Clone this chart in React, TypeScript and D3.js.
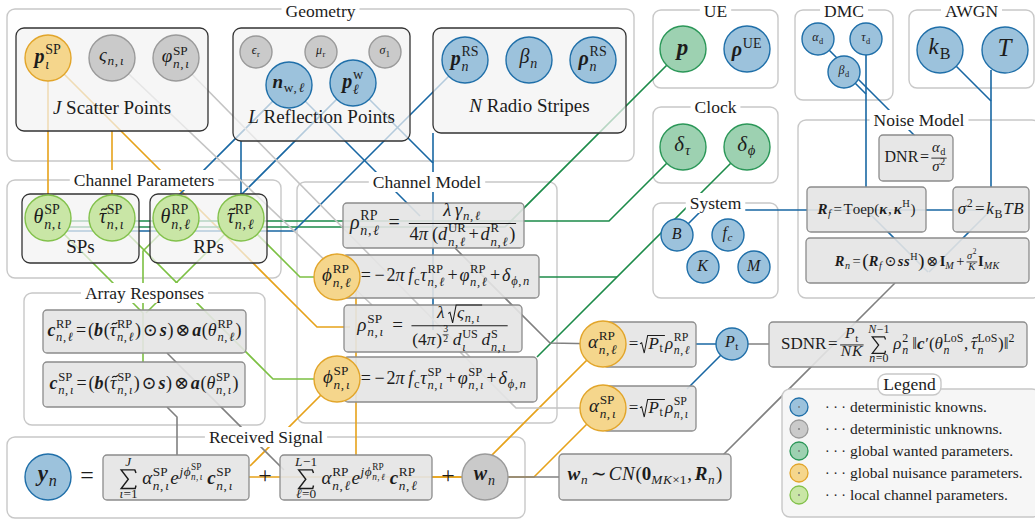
import React from 'react'
import * as d3 from 'd3'

const W = 1035
const H = 521
const FONT = '"Liberation Serif", "Times New Roman", "DejaVu Serif", serif'
const INK = '#1c1c1c'

type Pt = [number, number]

// legend categories
const kinds = ['known', 'unknown', 'wanted', 'nuisance', 'local']
const kindLabels = [
  'deterministic knowns.',
  'deterministic unknowns.',
  'global wanted parameters.',
  'global nuisance parameters.',
  'local channel parameters.',
]
const kindFill = ['#9cc2dc', '#cacaca', '#9dd1b1', '#f5d68c', '#c9e6a6']
const kindStroke = ['#1f6fa9', '#9a9a9a', '#2b9758', '#e2a52a', '#82c14b']

// light grey groups
const groupNames = [
  'Geometry', 'UE', 'Clock', 'DMC', 'AWGN', 'Noise Model', 'System',
  'Channel Parameters', 'Channel Model', 'Array Responses', 'Received Signal',
]
const groupFrames = [
  [7, 9, 634, 161], [653, 10, 778, 88], [653, 107, 778, 183], [795, 10, 893, 100],
  [909, 10, 1034, 88], [798, 120, 1040, 298], [653, 203, 778, 298], [7, 180, 281, 278],
  [297, 182, 557, 423], [24, 293, 265, 425], [7, 437, 525, 518],
]

// dark plates
const plateNames = [['J', ' Scatter Points'], ['L', ' Reflection Points'], ['N', ' Radio Stripes'], ['', 'SPs'], ['', 'RPs']]
const plateFrames = [[16, 28, 208, 131], [233, 28, 410, 141], [433, 28, 626, 133], [22, 194, 139, 263], [150, 194, 267, 263]]
const plateLabelY = [114, 123, 112, 253, 253]

// random variables / parameters
const nodes = [
  { id: 'pSP', kind: 'nuisance', tex: '\\bf{p}^{\\rm{SP}}_{ι}' },
  { id: 'zeta', kind: 'unknown', tex: 'ς_{n,ι}' },
  { id: 'phiS', kind: 'unknown', tex: 'φ^{\\rm{SP}}_{n,ι}' },
  { id: 'epsr', kind: 'unknown', tex: 'ϵ_{\\rm{r}}' },
  { id: 'mur', kind: 'unknown', tex: 'μ_{\\rm{r}}' },
  { id: 'sig1', kind: 'unknown', tex: 'σ_{1}' },
  { id: 'nw', kind: 'known', tex: '\\bf{n}_{\\rm{w},ℓ}' },
  { id: 'pw', kind: 'known', tex: '\\bf{p}^{\\rm{w}}_{ℓ}' },
  { id: 'pRS', kind: 'known', tex: '\\bf{p}^{\\rm{RS}}_{n}' },
  { id: 'betan', kind: 'known', tex: 'β_{n}' },
  { id: 'rhoRS', kind: 'known', tex: '\\bf{ρ}^{\\rm{RS}}_{n}' },
  { id: 'p', kind: 'wanted', tex: '\\bf{p}' },
  { id: 'rhoUE', kind: 'known', tex: '\\bf{ρ}^{\\rm{UE}}' },
  { id: 'dtau', kind: 'wanted', tex: 'δ_{τ}' },
  { id: 'dphi', kind: 'wanted', tex: 'δ_{ϕ}' },
  { id: 'alphad', kind: 'known', tex: 'α_{\\rm{d}}' },
  { id: 'taud', kind: 'known', tex: 'τ_{\\rm{d}}' },
  { id: 'betad', kind: 'known', tex: 'β_{\\rm{d}}' },
  { id: 'kB', kind: 'known', tex: 'k_{\\rm{B}}' },
  { id: 'T', kind: 'known', tex: 'T' },
  { id: 'B', kind: 'known', tex: 'B' },
  { id: 'fc', kind: 'known', tex: 'f_{c}' },
  { id: 'K', kind: 'known', tex: 'K' },
  { id: 'M', kind: 'known', tex: 'M' },
  { id: 'thSP', kind: 'local', tex: 'θ^{\\rm{SP}}_{n,ι}' },
  { id: 'tauSP', kind: 'local', tex: '\\tilde{τ}^{\\rm{SP}}_{n,ι}' },
  { id: 'thRP', kind: 'local', tex: 'θ^{\\rm{RP}}_{n,ℓ}' },
  { id: 'tauRP', kind: 'local', tex: '\\tilde{τ}^{\\rm{RP}}_{n,ℓ}' },
  { id: 'phiRP', kind: 'nuisance', tex: 'ϕ^{\\rm{RP}}_{n,ℓ}' },
  { id: 'phiSP', kind: 'nuisance', tex: 'ϕ^{\\rm{SP}}_{n,ι}' },
  { id: 'aRP', kind: 'nuisance', tex: 'α^{\\rm{RP}}_{n,ℓ}' },
  { id: 'aSP', kind: 'nuisance', tex: 'α^{\\rm{SP}}_{n,ι}' },
  { id: 'Pt', kind: 'known', tex: 'P_{\\rm{t}}' },
  { id: 'yn', kind: 'known', tex: '\\bf{y}_{n}' },
  { id: 'wn', kind: 'unknown', tex: '\\bf{w}_{n}' },
]

// node layout: x, y, radius, label size
const nodeAt: Record<string, number[]> = {
  pSP: [48, 58, 23, 20], zeta: [112, 58, 23, 19], phiS: [176, 58, 23, 19],
  epsr: [256, 52, 16, 12], mur: [321, 52, 16, 12], sig1: [385, 52, 16, 12],
  nw: [289, 85, 23, 19], pw: [353, 83, 23, 20],
  pRS: [465, 60, 23, 20], betan: [529, 60, 23, 20], rhoRS: [593, 60, 23, 20],
  p: [683, 49, 23, 23], rhoUE: [747, 49, 23, 20], dtau: [683, 147, 23, 21], dphi: [747, 147, 23, 21],
  alphad: [818, 39, 16, 12], taud: [866, 39, 16, 12], betad: [844, 72, 16, 12],
  kB: [940, 50, 23, 23], T: [1005, 50, 23, 25],
  B: [677, 235, 16, 16], fc: [728, 235, 16, 16], K: [703, 267, 16, 16], M: [754, 267, 16, 16],
  thSP: [48, 218, 23, 20], tauSP: [112, 218, 23, 20], thRP: [176, 218, 23, 20], tauRP: [241, 218, 23, 20],
  phiRP: [337, 277, 23, 19], phiSP: [337, 379, 23, 19], aRP: [603, 344, 23, 19], aSP: [603, 408, 23, 19],
  Pt: [732, 344, 16, 16], yn: [48, 477, 23, 23], wn: [485, 477, 23, 20],
}

// equation boxes
const eqTex: Record<string, string> = {
  rhoRP: 'ρ^{\\rm{RP}}_{n,ℓ}\\q=\\q\\frac{λ\\,γ_{n,ℓ}}{4π\\,(d^{\\rm{UR}}_{n,ℓ}+d^{\\rm{R}}_{n,ℓ})}',
  phiRP: '=−2π\\,f_{\\rm{c}}τ^{\\rm{RP}}_{n,ℓ}+φ^{\\rm{RP}}_{n,ℓ}+δ_{ϕ,n}',
  rhoSP: 'ρ^{\\rm{SP}}_{n,ι}\\q=\\q\\frac{λ\\,\\sqrt{ς_{n,ι}}}{(4π)^{\\frac{3}{2}}\\,d^{\\rm{US}}_{ι}\\,d^{\\rm{S}}_{n,ι}}',
  phiSP: '=−2π\\,f_{\\rm{c}}τ^{\\rm{SP}}_{n,ι}+φ^{\\rm{SP}}_{n,ι}+δ_{ϕ,n}',
  cRP: '\\bf{c}^{\\rm{RP}}_{n,ℓ}=(\\bf{b}(\\tilde{τ}^{\\rm{RP}}_{n,ℓ})⊙\\bf{s})⊗\\bf{a}(θ^{\\rm{RP}}_{n,ℓ})',
  cSP: '\\bf{c}^{\\rm{SP}}_{n,ι}=(\\bf{b}(\\tilde{τ}^{\\rm{SP}}_{n,ι})⊙\\bf{s})⊗\\bf{a}(θ^{\\rm{SP}}_{n,ι})',
  sumSP: '\\sum{ι=1}{J}\\,α^{\\rm{SP}}_{n,ι}e^{jϕ^{\\rm{SP}}_{n,ι}}\\,\\bf{c}^{\\rm{SP}}_{n,ι}',
  sumRP: '\\sum{ℓ=0}{L−1}\\,α^{\\rm{RP}}_{n,ℓ}e^{jϕ^{\\rm{RP}}_{n,ℓ}}\\,\\bf{c}^{\\rm{RP}}_{n,ℓ}',
  aRP: '=\\sqrt{P_{\\rm{t}}}ρ^{\\rm{RP}}_{n,ℓ}',
  aSP: '=\\sqrt{P_{\\rm{t}}}ρ^{\\rm{SP}}_{n,ι}',
  sdnr: '\\rm{SDNR}=\\frac{P_{\\rm{t}}}{NK}\\,\\sum{n=0}{N−1}\\,ρ^{2}_{n}\\,‖\\bf{c}′(θ^{\\rm{LoS}}_{n},\\tilde{τ}^{\\rm{LoS}}_{n})‖^{2}',
  wn: '\\bf{w}_{n}∼CN(\\bb{0}_{MK×1},\\bf{R}_{n})',
  dnr: '\\rm{DNR}=\\frac{α_{\\rm{d}}}{σ^{2}}',
  rf: '\\bf{R}_{f}=\\rm{Toep}(\\bf{κ},\\bf{κ}^{\\rm{H}})',
  sig: 'σ^{2}=k_{\\rm{B}}TB',
  rn: '\\bf{R}_{n}=\\big{(}\\bf{R}_{f}⊙\\bf{ss}^{\\rm{H}}\\big{)}⊗\\bb{I}_{M}+\\tfrac{σ^{2}}{K}\\bb{I}_{MK}',
}
const eqFrames: Record<string, number[]> = {
  rhoRP: [343, 203, 524, 248], phiRP: [343, 255, 539, 298], rhoSP: [344, 305, 522, 352], phiSP: [344, 357, 537, 402],
  cRP: [43, 310, 246, 353], cSP: [43, 362, 245, 407], sumSP: [103, 455, 249, 500], sumRP: [280, 455, 432, 500],
  aRP: [603, 322, 696, 367], aSP: [603, 386, 696, 431], sdnr: [769, 322, 1027, 367], wn: [559, 454, 731, 500],
  dnr: [879, 135, 953, 181], rf: [807, 187, 926, 232], sig: [953, 187, 1029, 232], rn: [806, 238, 1029, 283],
}
// text start (0 = centred) and size
const eqText: Record<string, number[]> = {
  rhoRP: [0, 20], phiRP: [359, 18], rhoSP: [0, 19], phiSP: [359, 18], cRP: [0, 18], cSP: [0, 18],
  sumSP: [0, 19], sumRP: [0, 19], aRP: [627, 17], aSP: [627, 17], sdnr: [0, 17], wn: [0, 19],
  dnr: [0, 16], rf: [0, 15], sig: [0, 17], rn: [0, 14.5],
}

const edgeColor: Record<string, string> = {
  nuis: '#e6a21a', want: '#1c8b49', know: '#1867a3', unk: '#808080', unkL: '#c4c4c4', loc: '#7cc043',
}
const edges: { c: string; path: (string | Pt)[] }[] = [
  { c: 'nuis', path: ['pSP', [48, 218]] },
  { c: 'nuis', path: [[112, 131], 'tauSP'] },
  { c: 'nuis', path: ['pSP', [317, 327], [350, 327]] },
  { c: 'nuis', path: [[356, 285], [356, 456]] },
  { c: 'nuis', path: ['phiSP', [250, 466]] },
  { c: 'nuis', path: ['aSP', [534, 477], [249, 477]] },
  { c: 'nuis', path: ['aRP', [470, 477], [432, 477]] },
  { c: 'want', path: ['p', [505, 227], [48, 227]] },
  { c: 'want', path: ['dtau', [609, 221], [48, 221]] },
  { c: 'want', path: ['dphi', [537, 357]] },
  { c: 'want', path: [[617, 277], [539, 277]] },
  { c: 'know', path: ['nw', [176, 198], 'thRP'] },
  { c: 'know', path: ['pw', [241, 195], 'tauRP'] },
  { c: 'know', path: [[241, 141], [241, 196]] },
  { c: 'know', path: ['nw', [420, 216]] },
  { c: 'know', path: ['pw', [433, 163], [433, 330]] },
  { c: 'know', path: [[433, 133], [433, 163]] },
  { c: 'know', path: ['pRS', [294, 231], [48, 231]] },
  { c: 'know', path: ['alphad', [915, 136]] },
  { c: 'know', path: ['betad', [866, 94]] },
  { c: 'know', path: ['taud', [866, 187]] },
  { c: 'know', path: ['kB', [991, 101]] },
  { c: 'know', path: [[991, 70], [991, 187]] },
  { c: 'know', path: ['B', [702, 210], [991, 210]] },
  { c: 'know', path: [[866, 210], [928, 272]] },
  { c: 'know', path: [[991, 210], [929, 272]] },
  { c: 'know', path: [[696, 344], 'Pt'] },
  { c: 'know', path: ['Pt', [687, 389]] },
  { c: 'unkL', path: ['zeta', [372, 305]] },
  { c: 'unkL', path: ['phiS', [470, 357]] },
  { c: 'unkL', path: [[460, 352], [516, 408], 'aSP'] },
  { c: 'unk', path: [[167, 407], [177, 417], [177, 455]] },
  { c: 'unk', path: [[167, 353], [284, 470]] },
  { c: 'unk', path: [[455, 248], [550, 343], 'aRP'] },
  { c: 'unk', path: ['wn', [559, 477]] },
  { c: 'unk', path: [[723, 455], [895, 283]] },
  { c: 'unk', path: ['Pt', [769, 344]] },
  { c: 'loc', path: ['thSP', [143, 313], [143, 362]] },
  { c: 'loc', path: ['thRP', [143, 251], [143, 310]] },
  { c: 'loc', path: ['tauRP', [146, 313]] },
  { c: 'loc', path: ['tauSP', [273, 379], 'phiSP'] },
  { c: 'loc', path: ['tauRP', [300, 277], 'phiRP'] },
]

// ---------- tiny math typesetter ----------
type Ctx = { z: number; st: string; lvl: number }
type It = { k: string; x: number; y: number; s: string; z: number; st: string; sw?: number }
type Bx = { w: number; a: number; d: number; it: It[] }

let cv: CanvasRenderingContext2D | null = null
function measure(s: string, z: number, st: string) {
  if (!cv) cv = document.createElement('canvas').getContext('2d')
  if (!cv) return s.length * z * 0.5
  cv.font = `${st.includes('i') ? 'italic ' : ''}${st.includes('b') ? 'bold ' : ''}${z}px ${FONT}`
  return cv.measureText(s).width
}

const shift = (it: It[], dx: number, dy: number) => it.map((t) => ({ ...t, x: t.x + dx, y: t.y + dy }))
const gap = (w: number): Bx => ({ w, a: 0, d: 0, it: [] })
const LETTER = /[A-Za-zα-ωϵϕℓ]/
const BIN = '=+−⊗⊙∼×'

function charBox(c: string, ctx: Ctx): Bx {
  const L = LETTER.test(c)
  const st = ctx.st === 'rm' ? 'r' : ctx.st === 'bb' ? 'b' : ctx.st === 'bf' ? (L ? 'bi' : 'b') : L ? 'i' : 'r'
  const z = ctx.z
  const w = measure(c, z, st)
  let pre = 0
  let post = st.includes('i') ? 0.04 * z : 0
  if (ctx.lvl === 0 && BIN.includes(c)) {
    pre = 0.1 * z
    post = 0.1 * z
  }
  if (c === ',') post = 0.14 * z
  return { w: pre + w + post, a: 0.7 * z, d: 0.2 * z, it: [{ k: 't', x: pre, y: 0, s: c, z, st }] }
}

function hcat(bs: Bx[]): Bx {
  let x = 0, a = 0, d = 0
  const it: It[] = []
  for (const b of bs) {
    it.push(...shift(b.it, x, 0))
    x += b.w
    a = Math.max(a, b.a)
    d = Math.max(d, b.d)
  }
  return { w: x, a, d, it }
}

function scripts(base: Bx, sup: Bx | null, sub: Bx | null, z: number): Bx {
  const it = [...base.it]
  let a = base.a, d = base.d, sw = 0
  if (sup) {
    const y = -0.42 * z
    it.push(...shift(sup.it, base.w, y))
    sw = Math.max(sw, sup.w)
    a = Math.max(a, -y + sup.a)
  }
  if (sub) {
    const y = sup ? 0.3 * z : 0.22 * z
    it.push(...shift(sub.it, base.w, y))
    sw = Math.max(sw, sub.w)
    d = Math.max(d, y + sub.d)
  }
  return { w: base.w + sw + 0.04 * z, a, d, it }
}

function frac(n: Bx, dn: Bx, z: number): Bx {
  const ax = -0.26 * z, g = 0.12 * z
  const w = Math.max(n.w, dn.w) + 0.18 * z
  const ny = ax - g - n.d * 0.8, dy = ax + g + dn.a * 0.85
  return {
    w, a: -(ny - n.a), d: dy + dn.d,
    it: [
      ...shift(n.it, (w - n.w) / 2, ny),
      ...shift(dn.it, (w - dn.w) / 2, dy),
      { k: 'p', x: 0.05 * z, y: ax, s: `M0,0H${w - 0.1 * z}`, z, st: '', sw: Math.max(0.6, 0.055 * z) },
    ],
  }
}

function sumBox(lo: Bx, hi: Bx, z: number): Bx {
  const sw = 0.78 * z, top = -0.74 * z, bot = 0.24 * z, mid = (top + bot) / 2
  const w = Math.max(sw, lo.w, hi.w) + 0.12 * z
  const d = `M${sw},${top + 0.16 * z}L${sw - 0.06 * z},${top}L0,${top}L${sw * 0.48},${mid}L0,${bot}L${sw - 0.04 * z},${bot}L${sw},${bot - 0.16 * z}`
  const hy = top - 0.08 * z - hi.d, ly = bot + 0.08 * z + lo.a * 0.85
  return {
    w, a: -(hy - hi.a), d: ly + lo.d,
    it: [
      { k: 'p', x: (w - sw) / 2, y: 0, s: d, z, st: '', sw: 0.075 * z },
      ...shift(hi.it, (w - hi.w) / 2, hy),
      ...shift(lo.it, (w - lo.w) / 2, ly),
    ],
  }
}

function sqrtBox(b: Bx, z: number): Bx {
  const top = -(b.a + 0.06 * z), bot = b.d * 0.6 + 0.05 * z
  const x0 = 0.5 * z, w = x0 + b.w + 0.08 * z
  const d = `M0,${-0.28 * z}L${0.1 * z},${-0.34 * z}L${0.25 * z},${bot}L${0.45 * z},${top}L${w},${top}`
  return { w, a: -top + 0.06 * z, d: Math.max(b.d, bot), it: [{ k: 'p', x: 0, y: 0, s: d, z, st: '', sw: 0.06 * z }, ...shift(b.it, x0, 0)] }
}

function tildeBox(b: Bx, z: number): Bx {
  const y = -0.68 * z, t = 0.07 * z
  const x0 = 0.12 * z, x1 = b.w + 0.02 * z, L = x1 - x0
  const d = `M${x0},${y + t}C${x0 + L * 0.3},${y - 2 * t} ${x0 + L * 0.7},${y + 2 * t} ${x1},${y - t}`
  return { w: b.w, a: -y + 0.15 * z, d: b.d, it: [...b.it, { k: 'p', x: 0, y: 0, s: d, z, st: '', sw: 0.065 * z }] }
}

function parse(src: string, ctx: Ctx): Bx {
  let i = 0
  const out: Bx[] = []
  const arg = () => {
    while (src[i] === ' ') i++
    if (src[i] !== '{') return src[i++] ?? ''
    let dep = 0
    let j = i
    for (; j < src.length; j++) {
      if (src[j] === '{') dep++
      else if (src[j] === '}' && --dep === 0) break
    }
    const r = src.slice(i + 1, j)
    i = j + 1
    return r
  }
  const sc = (c: Ctx): Ctx => ({ ...c, z: Math.max(5.5, c.z * 0.7), lvl: c.lvl + 1 })
  while (i < src.length) {
    const c = src[i]
    if (c === '\\') {
      let j = i + 1
      while (j < src.length && /[a-z]/.test(src[j])) j++
      if (j === i + 1) j++
      const cmd = src.slice(i + 1, j)
      i = j
      if (cmd === 'frac' || cmd === 'tfrac') {
        const a = arg(), b = arg()
        const k = cmd === 'tfrac' ? 0.72 : ctx.lvl ? 0.8 : 0.92
        const cc = { ...ctx, z: ctx.z * k }
        out.push(frac(parse(a, cc), parse(b, cc), ctx.z))
      } else if (cmd === 'sum') {
        const lo = arg(), hi = arg()
        out.push(sumBox(parse(lo, sc(ctx)), parse(hi, sc(ctx)), ctx.z))
      } else if (cmd === 'sqrt') out.push(sqrtBox(parse(arg(), ctx), ctx.z))
      else if (cmd === 'tilde') out.push(tildeBox(parse(arg(), ctx), ctx.z))
      else if (cmd === 'big') {
        const b = parse(arg(), { ...ctx, z: ctx.z * 1.35 })
        out.push({ ...b, it: shift(b.it, 0, 0.08 * ctx.z) })
      } else if (cmd === ',') out.push(gap(0.17 * ctx.z))
      else if (cmd === 'q') out.push(gap(0.3 * ctx.z))
      else out.push(parse(arg(), { ...ctx, st: cmd }))
      continue
    }
    if (c === '{') {
      out.push(parse(arg(), ctx))
      continue
    }
    if (c === '^' || c === '_') {
      let sup: Bx | null = null
      let sub: Bx | null = null
      while (src[i] === '^' || src[i] === '_') {
        const t = src[i++]
        const b = parse(arg(), sc(ctx))
        if (t === '^') sup = b
        else sub = b
      }
      out.push(scripts(out.pop() ?? gap(0), sup, sub, ctx.z))
      continue
    }
    i++
    if (c === ' ') {
      out.push(gap(0.2 * ctx.z))
      continue
    }
    out.push(charBox(c, ctx))
  }
  return hcat(out)
}

function MathText({ tex, x, y, z, maxW, maxH, start }: { tex: string; x: number; y: number; z: number; maxW?: number; maxH?: number; start?: boolean }) {
  const b = parse(tex, { z, st: 'auto', lvl: 0 })
  let k = maxW && b.w > maxW ? maxW / b.w : 1
  if (maxH && (b.a + b.d) * k > maxH) k = maxH / (b.a + b.d)
  const x0 = start ? x : x - (b.w * k) / 2
  const y0 = y + ((b.a - b.d) * k) / 2
  return (
    <g transform={`translate(${x0.toFixed(2)},${y0.toFixed(2)}) scale(${k.toFixed(4)})`}>
      {b.it.map((t, i) =>
        t.k === 't' ? (
          <text key={i} x={t.x} y={t.y} fontSize={t.z} fontStyle={t.st.includes('i') ? 'italic' : 'normal'} fontWeight={t.st.includes('b') ? 'bold' : 'normal'}>
            {t.s}
          </text>
        ) : (
          <path key={i} transform={`translate(${t.x},${t.y})`} d={t.s} fill="none" stroke={INK} strokeWidth={t.sw} strokeLinejoin="miter" />
        )
      )}
    </g>
  )
}

export default function App() {
  const line = d3.line()
  const fill = d3.scaleOrdinal<string, string>().domain(kinds).range(kindFill)
  const stroke = d3.scaleOrdinal<string, string>().domain(kinds).range(kindStroke)
  const at = (p: string | Pt): Pt => (typeof p === 'string' ? [nodeAt[p][0], nodeAt[p][1]] : p)

  return (
    <svg width={W} height={H} style={{ position: 'absolute', left: 0, top: 0, display: 'block', background: '#fff' }} fontFamily={FONT} fill={INK}>
      {groupFrames.map(([x0, y0, x1, y1], i) => (
        <rect key={i} x={x0} y={y0} width={x1 - x0} height={y1 - y0} rx={8} fill="none" stroke="#c8c8c8" strokeWidth={1.4} />
      ))}

      {edges.map((e, i) => (
        <path key={i} d={line(e.path.map(at)) ?? ''} fill="none" stroke={edgeColor[e.c]} strokeWidth={1.6} strokeLinejoin="round" />
      ))}

      {plateFrames.map(([x0, y0, x1, y1], i) => (
        <rect key={i} x={x0} y={y0} width={x1 - x0} height={y1 - y0} rx={8} fill="#f3f3f3" fillOpacity={0.72} stroke="#333" strokeWidth={1.3} />
      ))}

      {Object.keys(eqFrames).map((k) => {
        const [x0, y0, x1, y1] = eqFrames[k]
        return <rect key={k} x={x0} y={y0} width={x1 - x0} height={y1 - y0} rx={4} fill="#e4e4e4" fillOpacity={0.9} stroke="#8c8c8c" strokeWidth={1.3} />
      })}

      {nodes.map((n) => {
        const [x, y, r] = nodeAt[n.id]
        return <circle key={n.id} cx={x} cy={y} r={r} fill={fill(n.kind)} stroke={stroke(n.kind)} strokeWidth={1.4} />
      })}

      {groupNames.map((t, i) => {
        const [x0, y0, x1] = groupFrames[i]
        const cx = (x0 + x1) / 2
        const w = measure(t, 17.5, 'r') + 8
        const by = Math.max(y0 + 6, 17)
        return (
          <g key={t}>
            <rect x={cx - w / 2} y={Math.max(0, y0 - 10)} width={w} height={20} fill="#fff" />
            <text x={cx} y={by} textAnchor="middle" fontSize={17.5}>{t}</text>
          </g>
        )
      })}

      {plateNames.map(([v, t], i) => {
        const [x0, , x1] = plateFrames[i]
        return (
          <text key={i} x={(x0 + x1) / 2} y={plateLabelY[i]} textAnchor="middle" fontSize={19}>
            {v && <tspan fontStyle="italic">{v}</tspan>}
            {t}
          </text>
        )
      })}

      {Object.keys(eqFrames).map((k) => {
        const [x0, y0, x1, y1] = eqFrames[k]
        const [sx, z] = eqText[k]
        const cy = (y0 + y1) / 2 + (k.startsWith('sum') ? 1 : 0)
        const mh = y1 - y0 + 12
        return sx ? (
          <MathText key={k} tex={eqTex[k]} x={sx} y={cy} z={z} maxW={x1 - sx - 4} maxH={mh} start />
        ) : (
          <MathText key={k} tex={eqTex[k]} x={(x0 + x1) / 2} y={cy} z={z} maxW={x1 - x0 - 8} maxH={mh} />
        )
      })}

      <MathText tex="=" x={87} y={477} z={24} />
      <MathText tex="+" x={265} y={477} z={24} />
      <MathText tex="+" x={448} y={477} z={24} />

      {nodes.map((n) => {
        const [x, y, r, z] = nodeAt[n.id]
        return <MathText key={n.id} tex={n.tex} x={x} y={y} z={z} maxW={2 * r - 4} />
      })}

      <rect x={782} y={389} width={258} height={128} rx={8} fill="#f6f6f6" stroke="#c8c8c8" strokeWidth={1.4} />
      <rect x={878} y={374} width={63} height={21} rx={8} fill="#fff" stroke="#c8c8c8" strokeWidth={1.4} />
      <text x={909.5} y={390} textAnchor="middle" fontSize={17.5}>Legend</text>
      {kinds.map((k, i) => {
        const y = 407 + i * 22
        return (
          <g key={k}>
            <circle cx={799} cy={y} r={9} fill={fill(k)} stroke={stroke(k)} strokeWidth={1.3} />
            <circle cx={799} cy={y} r={0.9} fill="#777" />
            <text x={825} y={y + 5} fontSize={14}>· · ·</text>
            <text x={850} y={y + 5} fontSize={15.5}>{kindLabels[i]}</text>
          </g>
        )
      })}
    </svg>
  )
}
